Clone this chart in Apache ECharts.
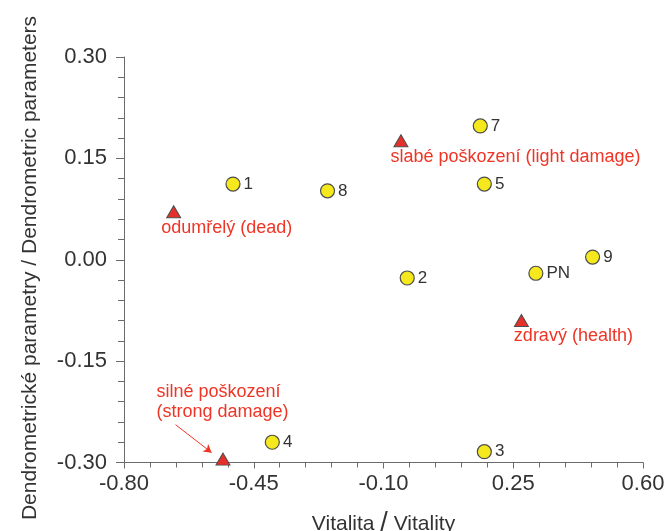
<!DOCTYPE html>
<html>
<head>
<meta charset="utf-8">
<script src="https://cdn.jsdelivr.net/npm/echarts@6/dist/echarts.min.js"></script>
<style>
html,body{margin:0;padding:0;background:#fff;}
#chart{width:667px;height:531px;}
</style>
</head>
<body>
<div id="chart"></div>
<script>
// ---- data ----
const pointNames = ['1', '2', '3', '4', '5', '7', '8', '9', 'PN'];
const pointVitality = [-0.506, -0.036, 0.172, -0.400, 0.172, 0.161, -0.251, 0.464, 0.311];
const pointDendro = [0.112, -0.027, -0.284, -0.270, 0.112, 0.198, 0.102, 0.004, -0.020];

const classNames = ['odumřelý (dead)', 'slabé poškození (light damage)', 'zdravý (health)', 'silné poškození\n(strong damage)'];
const classVitality = [-0.666, -0.053, 0.272, -0.533];
const classDendro = [0.071, 0.176, -0.090, -0.295];

const xTicks = [-0.80, -0.45, -0.10, 0.25, 0.60];
const yTicks = [-0.30, -0.15, 0.00, 0.15, 0.30];

// arrow annotation (data units)
const arrowFrom = [-0.661, -0.244];
const arrowTo = [-0.5635, -0.2855];

// ---- styling (not data) ----
const FONT = '"Liberation Sans", Arial, Helvetica, sans-serif';
const RED_TEXT = '#ee3526';
const classLabelPos = [[-5, 23], [-3, 23], [0, 22], [-59, -51]];

const chart = echarts.init(document.getElementById('chart'));

const option = {
  backgroundColor: '#ffffff',
  animation: false,
  textStyle: { fontFamily: FONT },
  grid: { left: 124, right: 24, top: 57, bottom: 68.5, containLabel: false, outerBoundsMode: 'none' },
  xAxis: {
    type: 'value',
    min: xTicks[0],
    max: xTicks[xTicks.length - 1],
    interval: 0.35,
    name: '{a|Vitalita }{s|/}{a| Vitality}',
    nameLocation: 'middle',
    nameGap: 48,
    nameTextStyle: {
      rich: {
        a: { fontSize: 21, color: '#333', fontFamily: FONT },
        s: { fontSize: 27, color: '#333', fontFamily: FONT }
      }
    },
    axisLine: { show: true, onZero: false, lineStyle: { color: '#6b6b6b', width: 1 } },
    axisTick: { show: true, inside: false, length: 6, lineStyle: { color: '#6b6b6b' } },
    minorTick: { show: true, splitNumber: 5, length: 5, lineStyle: { color: '#6b6b6b' } },
    splitLine: { show: false },
    axisLabel: {
      fontSize: 22, color: '#333', margin: 10, fontFamily: FONT,
      formatter: v => v.toFixed(2)
    }
  },
  yAxis: {
    type: 'value',
    min: yTicks[0],
    max: yTicks[yTicks.length - 1],
    interval: 0.15,
    axisLine: { show: true, onZero: false, lineStyle: { color: '#6b6b6b', width: 1 } },
    axisTick: { show: true, inside: false, length: 8, lineStyle: { color: '#6b6b6b' } },
    minorTick: { show: true, splitNumber: 5, length: 6, lineStyle: { color: '#6b6b6b' } },
    splitLine: { show: false },
    axisLabel: {
      fontSize: 22, color: '#333', margin: 17, fontFamily: FONT,
      formatter: v => v.toFixed(2)
    }
  },
  graphic: [{
    type: 'text',
    x: 30,
    y: 268,
    rotation: Math.PI / 2,
    style: {
      text: 'Dendrometrické parametry / Dendrometric parameters',
      fontSize: 21,
      fontFamily: FONT,
      fill: '#333',
      textAlign: 'center',
      textVerticalAlign: 'middle'
    }
  }],
  series: [
    {
      type: 'scatter',
      name: 'points',
      symbol: 'circle',
      symbolSize: 14,
      itemStyle: { color: '#f5e81c', borderColor: '#4d4d4d', borderWidth: 1.2, opacity: 1 },
      label: {
        show: true,
        position: 'right',
        distance: 3,
        fontSize: 17,
        color: '#333',
        fontFamily: FONT,
        formatter: p => p.data.name
      },
      data: pointNames.map((n, i) => ({ name: n, value: [pointVitality[i], pointDendro[i]] })),
      z: 3
    },
    {
      type: 'scatter',
      name: 'classes',
      symbol: 'triangle',
      symbolSize: [14, 12],
      itemStyle: { color: '#e5302a', borderColor: '#4d4d4d', borderWidth: 1, opacity: 1 },
      data: classNames.map((n, i) => ({
        name: n,
        value: [classVitality[i], classDendro[i]],
        label: {
          show: true,
          position: classLabelPos[i],
          align: 'left',
          verticalAlign: 'middle',
          fontSize: 18,
          lineHeight: 20,
          color: RED_TEXT,
          fontFamily: FONT,
          formatter: p => p.data.name
        }
      })),
      markLine: {
        silent: true,
        symbol: ['none', 'arrow'],
        symbolSize: [7, 8],
        label: { show: false },
        lineStyle: { color: '#ee3526', width: 1, type: 'solid' },
        data: [[{ coord: arrowFrom }, { coord: arrowTo }]],
        animation: false
      },
      z: 4
    }
  ]
};

chart.setOption(option);
</script>
</body>
</html>
